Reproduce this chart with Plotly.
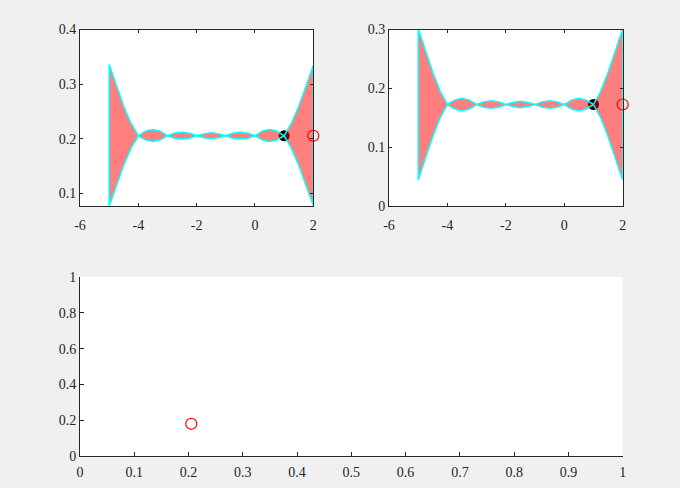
import plotly.graph_objects as go

# ---- data ----
x_grid = [-5, -4.75, -4.5, -4.25, -4, -3.75, -3.5, -3.25, -3, -2.75, -2.5, -2.25, -2,
          -1.75, -1.5, -1.25, -1, -0.75, -0.5, -0.25, 0, 0.25, 0.5, 0.75, 1,
          1.25, 1.5, 1.75, 2]

upper_a = [0.336, 0.296, 0.259, 0.228, 0.2055, 0.214, 0.217, 0.214, 0.2055, 0.210, 0.212, 0.210, 0.2055,
           0.209, 0.211, 0.209, 0.2055, 0.210, 0.212, 0.210, 0.2055, 0.214, 0.217, 0.214, 0.2055,
           0.228, 0.259, 0.296, 0.334]
lower_a = [0.076, 0.115, 0.152, 0.183, 0.2055, 0.198, 0.195, 0.198, 0.2055, 0.201, 0.1995, 0.201, 0.2055,
           0.202, 0.2005, 0.202, 0.2055, 0.201, 0.1995, 0.201, 0.2055, 0.198, 0.195, 0.198, 0.2055,
           0.183, 0.152, 0.115, 0.078]

upper_b = [0.301, 0.263, 0.227, 0.195, 0.1725, 0.180, 0.183, 0.180, 0.1725, 0.177, 0.179, 0.177, 0.1725,
           0.176, 0.178, 0.176, 0.1725, 0.177, 0.179, 0.177, 0.1725, 0.180, 0.183, 0.180, 0.1725,
           0.195, 0.227, 0.263, 0.301]
lower_b = [0.044, 0.082, 0.118, 0.150, 0.1725, 0.165, 0.162, 0.165, 0.1725, 0.168, 0.166, 0.168, 0.1725,
           0.169, 0.167, 0.169, 0.1725, 0.168, 0.166, 0.168, 0.1725, 0.165, 0.162, 0.165, 0.1725,
           0.150, 0.118, 0.082, 0.044]

best_x = [1]
best_a = [0.2055]
best_b = [0.1725]
next_x = [2]
next_a = [0.2055]
next_b = [0.1725]

scatter_x = [0.205]
scatter_y = [0.18]

top_xticks = [-6, -4, -2, 0, 2]
top_xtext = ['-6', '-4', '-2', '0', '2']
a_yticks = [0.1, 0.2, 0.3, 0.4]
a_ytext = ['0.1', '0.2', '0.3', '0.4']
b_yticks = [0, 0.1, 0.2, 0.3]
b_ytext = ['0', '0.1', '0.2', '0.3']
bot_xticks = [0, 0.1, 0.2, 0.3, 0.4, 0.5, 0.6, 0.7, 0.8, 0.9, 1]
bot_xtext = ['0', '0.1', '0.2', '0.3', '0.4', '0.5', '0.6', '0.7', '0.8', '0.9', '1']
bot_yticks = [0, 0.2, 0.4, 0.6, 0.8, 1]
bot_ytext = ['0', '0.2', '0.4', '0.6', '0.8', '1']

INK = '#262626'
W, H = 680, 488


def px_x(a, b):
    return [a / W, b / W]


def px_y(top, bottom):
    return [1 - bottom / H, 1 - top / H]


fig = go.Figure()


def add_panel(upper, lower, best_y, next_y, xa, ya):
    # marker drawn first so the translucent band sits on top of it
    fig.add_trace(go.Scatter(
        x=best_x, y=best_y, mode='markers', xaxis=xa, yaxis=ya,
        marker=dict(symbol='circle', size=11, color='black'),
        showlegend=False, cliponaxis=False))
    poly_x = x_grid + x_grid[::-1] + [x_grid[0]]
    poly_y = upper + lower[::-1] + [upper[0]]
    fig.add_trace(go.Scatter(
        x=poly_x, y=poly_y, mode='lines', fill='toself', xaxis=xa, yaxis=ya,
        fillcolor='rgba(255,0,0,0.5)', line=dict(color='#00FFFF', width=1.5),
        showlegend=False, cliponaxis=False))
    fig.add_trace(go.Scatter(
        x=next_x, y=next_y, mode='markers', xaxis=xa, yaxis=ya,
        marker=dict(symbol='circle-open', size=11, color='red', line=dict(width=1.2)),
        showlegend=False, cliponaxis=False))


add_panel(upper_a, lower_a, best_a, next_a, 'x', 'y')
add_panel(upper_b, lower_b, best_b, next_b, 'x2', 'y2')

fig.add_trace(go.Scatter(
    x=scatter_x, y=scatter_y, mode='markers', xaxis='x3', yaxis='y3',
    marker=dict(symbol='circle-open', size=11, color='red', line=dict(width=1.2)),
    showlegend=False, cliponaxis=False))

tick_font = dict(family='Liberation Serif, Times New Roman, serif', size=14, color=INK)
common = dict(showline=True, linecolor=INK, linewidth=1, ticks='inside', tickcolor=INK,
              ticklen=3, tickwidth=1, showgrid=False, zeroline=False, tickfont=tick_font,
              automargin=False)

fig.update_layout(
    width=W, height=H, autosize=False,
    margin=dict(l=0, r=0, t=0, b=0, pad=0),
    paper_bgcolor='#F0F0F0', plot_bgcolor='white',
    xaxis=dict(domain=px_x(80, 313.3), range=[-6, 2], anchor='y', mirror='ticks',
               tickvals=top_xticks, ticktext=top_xtext, ticklabelstandoff=6, **common),
    yaxis=dict(domain=px_y(29.5, 206), range=[0.077, 0.4], anchor='x', mirror='ticks',
               tickvals=a_yticks, ticktext=a_ytext, **common),
    xaxis2=dict(domain=px_x(389, 622.7), range=[-6, 2], anchor='y2', mirror='ticks',
                tickvals=top_xticks, ticktext=top_xtext, ticklabelstandoff=6, **common),
    yaxis2=dict(domain=px_y(29.5, 206), range=[0, 0.3], anchor='x2', mirror='ticks',
                tickvals=b_yticks, ticktext=b_ytext, **common),
    xaxis3=dict(domain=px_x(80, 622.7), range=[0, 1], anchor='y3',
                tickvals=bot_xticks, ticktext=bot_xtext, ticklabelstandoff=3, **common),
    yaxis3=dict(domain=px_y(277, 456), range=[0, 1], anchor='x3',
                tickvals=bot_yticks, ticktext=bot_ytext, **common),
)
fig.update_xaxes(ticklen=4, selector=dict(anchor='y3'))
fig.update_yaxes(ticklen=4, selector=dict(anchor='x3'))

fig.write_html("out.html", config={'responsive': False, 'displayModeBar': False},
               post_script="document.body.style.margin='0';document.body.style.overflow='hidden';")
